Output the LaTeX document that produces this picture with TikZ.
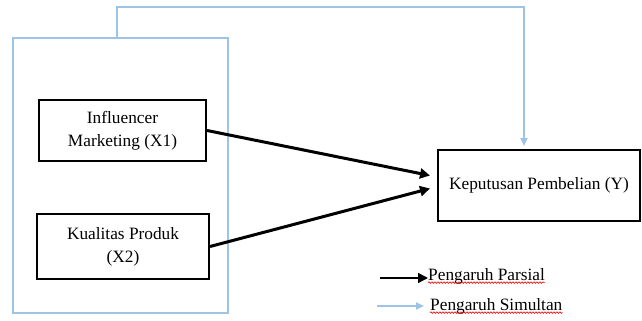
\documentclass[tikz,border=0pt]{standalone}
\usepackage{fontspec}
\setmainfont{Liberation Serif}
\usetikzlibrary{arrows.meta,decorations.pathmorphing}
\definecolor{simblue}{RGB}{157,195,230}
\tikzset{varbox/.style={draw,line width=2pt,align=center,font=\fontsize{17.3}{23}\selectfont},
  group/.style={draw=simblue,line width=2pt},
  parsial/.style={line width=3pt,-{Triangle[length=10pt,width=10pt]}},
  simul/.style={simblue,line width=2pt,-{Triangle[length=8pt,width=7pt]}},
  legend/.style={anchor=west,inner sep=0pt,font=\fontsize{17.3}{23}\selectfont},
  squiggle/.style={red,line width=0.6pt,decorate,decoration={snake,amplitude=0.8pt,segment length=3pt}}}

\begin{document}
\begin{tikzpicture}[x=1pt,y=-1pt]
        \useasboundingbox (0,0) rectangle (642,321);
        \node[group,minimum width=215,minimum height=275] (grp) at (120.5,175.5) {};
        \node[varbox,minimum width=167,minimum height=61] (x1) at (122.5,130.5) {Influencer\\Marketing (X1)};
        \node[varbox,minimum width=172,minimum height=65] (x2) at (123,246.5) {Kualitas Produk\\(X2)};
        \node[varbox,minimum width=202,minimum height=71] (y) at (539,185.5) {Keputusan Pembelian (Y)};
        \draw[parsial] (x1.east) -- ([xshift=-7,yshift=10]y.west);
        \draw[parsial] (x2.east) -- ([xshift=-7,yshift=-3]y.west);
        \draw[simul] ([xshift=-3.5]grp.north) -- ++(0,-30) -| ([xshift=-15,yshift=3]y.north);
        % keterangan
        \node[legend] (lp) at (428,276) {Pengaruh Parsial};
        \node[legend] (ls) at (430,306) {Pengaruh Simultan};
        \coordinate (lpa) at (380,278);
        \coordinate (lsa) at (377,306);
        \draw[parsial,line width=1.5pt] (lpa) -- (lpa -| lp.west);
        \draw[simul] (lsa) -- ([xshift=-6]ls.west);
        \draw[squiggle] ([yshift=1.5]lp.south west) -- ([yshift=1.5]lp.south east);
        \draw[squiggle] ([yshift=1.5]ls.south west) -- ([yshift=1.5]ls.south east);
    \end{tikzpicture}
\end{document}
